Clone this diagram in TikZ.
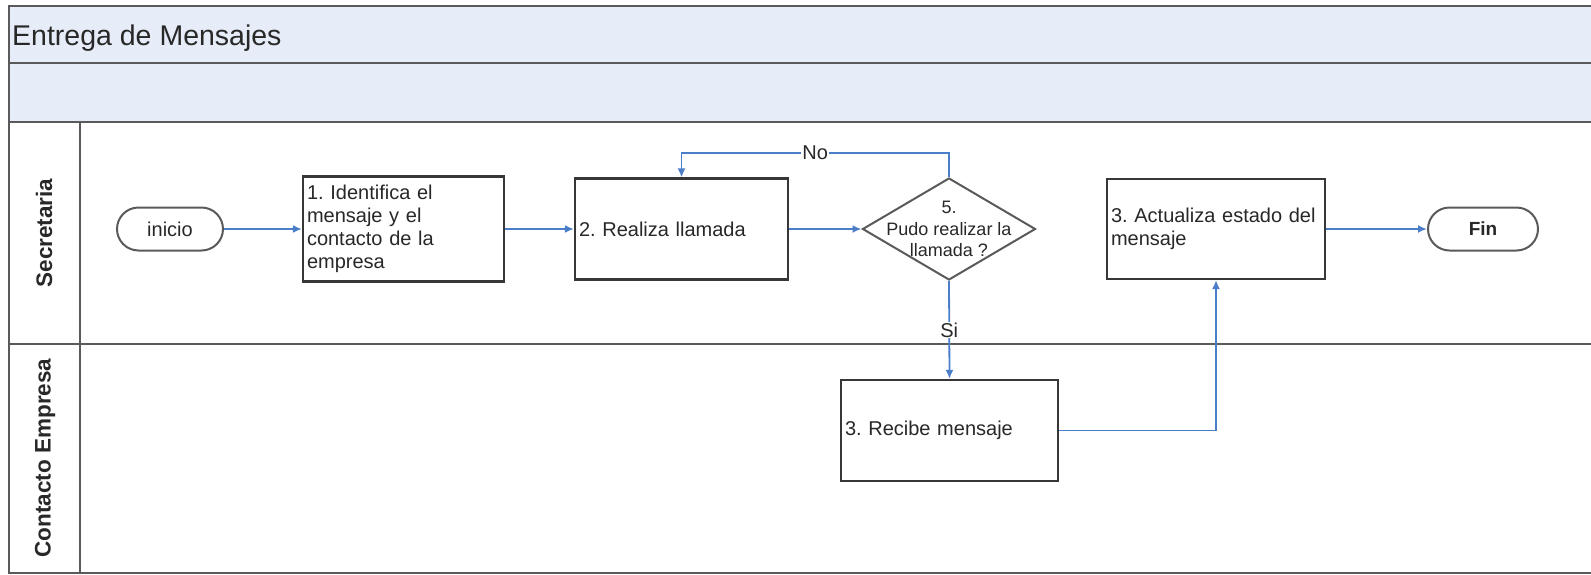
\documentclass[tikz,border=0pt]{standalone}
\usepackage{fontspec}
\setmainfont{Liberation Sans}
\usetikzlibrary{shapes.geometric,shapes.misc,arrows.meta}
\frenchspacing

\definecolor{bandfill}{RGB}{230,237,248}
\definecolor{framegray}{RGB}{90,90,90}
\definecolor{boxgray}{RGB}{55,55,55}
\definecolor{flowblue}{RGB}{74,126,200}
\definecolor{inkgray}{RGB}{40,40,40}

\begin{document}
\begin{tikzpicture}[x=1pt,y=-1pt,
  frame/.style={draw=framegray, line width=2pt},
  stepbox/.style={rectangle, draw=boxgray, line width=2.2pt, fill=white,
    align=left, inner xsep=4pt, inner ysep=0pt, text=inkgray,
    font=\fontsize{20}{23}\selectfont},
  terminal/.style={rounded rectangle, draw=framegray, line width=2pt, fill=white,
    minimum height=43pt, inner sep=0pt, text=inkgray,
    font=\fontsize{20}{23}\selectfont},
  decision/.style={diamond, draw=framegray, line width=2pt, fill=white,
    minimum width=173pt, minimum height=102pt, inner sep=0pt},
  flow/.style={draw=flowblue, line width=1.8pt, -{Latex[length=9pt,width=8pt]}},
  flowlabel/.style={fill=white, inner sep=1pt, text=inkgray,
    font=\fontsize{20}{23}\selectfont},
  lanelabel/.style={rotate=90, text=inkgray, font=\bfseries\fontsize{22.5}{25}\selectfont}
]
\useasboundingbox (0,0) rectangle (1591,574);

% pool header bands and lane frame
\fill[bandfill] (9,6) rectangle (1591,122);
\draw[frame] (1591,6) -- (9,6) -- (9,573) -- (1591,573);
\draw[frame] (9,63) -- (1591,63);
\draw[frame] (9,122) -- (1591,122);
\draw[frame] (80,122) -- (80,573);
\draw[frame] (9,344) -- (1591,344);

\node[anchor=base west, inner sep=0pt, text=inkgray,
  font=\fontsize{28.5}{31}\selectfont] (title) at (12,45) {Entrega de Mensajes};

\node[lanelabel] (lane1) at (44,233) {Secretaria};
\node[lanelabel] (lane2) at (45,458) {Contacto Empresa};

% flow elements
\node[terminal, minimum width=106pt] (inicio) at (170,229) {inicio};
\node[stepbox, minimum width=201pt, text width=193pt, minimum height=105pt]
  (ident) at (403.5,229) {1. Identifica el\\mensaje y el\\contacto de la\\empresa};
\node[stepbox, minimum width=213pt, text width=205pt, minimum height=101pt]
  (llamada) at (681.5,229) {2. Realiza llamada};
\node[decision] (pudo) at (949,229) {};
\node[align=center, text=inkgray, inner sep=0pt,
  font=\fontsize{18}{21.5}\selectfont] (pudotext) at (pudo.center) {5.\\Pudo realizar la\\llamada ?};
\node[stepbox, minimum width=218pt, text width=210pt, minimum height=100pt]
  (actualiza) at (1216,229) {3. Actualiza estado del\\mensaje};
\node[terminal, minimum width=110pt, font=\bfseries\fontsize{19}{22}\selectfont]
  (fin) at (1483,229) {Fin};
\node[stepbox, minimum width=217pt, text width=209pt, minimum height=101pt]
  (recibe) at (949.5,430.5) {3. Recibe mensaje};

% connectors
\draw[flow] (inicio.east) -- (ident.west);
\draw[flow] (ident.east) -- (llamada.west);
\draw[flow] (llamada.east) -- (pudo.west);
\draw[flow] (pudo.north) -- ++(0,-24) coordinate (nocorner)
  -- (nocorner -| llamada.north) node[flowlabel, pos=0.5] {No} -- (llamada.north);
\draw[flow] (pudo.south) -- (recibe.north) node[flowlabel, pos=0.5] {Si};
\draw[flow] (recibe.east) -| (actualiza.south);
\draw[flow] (actualiza.east) -- (fin.west);
\end{tikzpicture}
\end{document}
